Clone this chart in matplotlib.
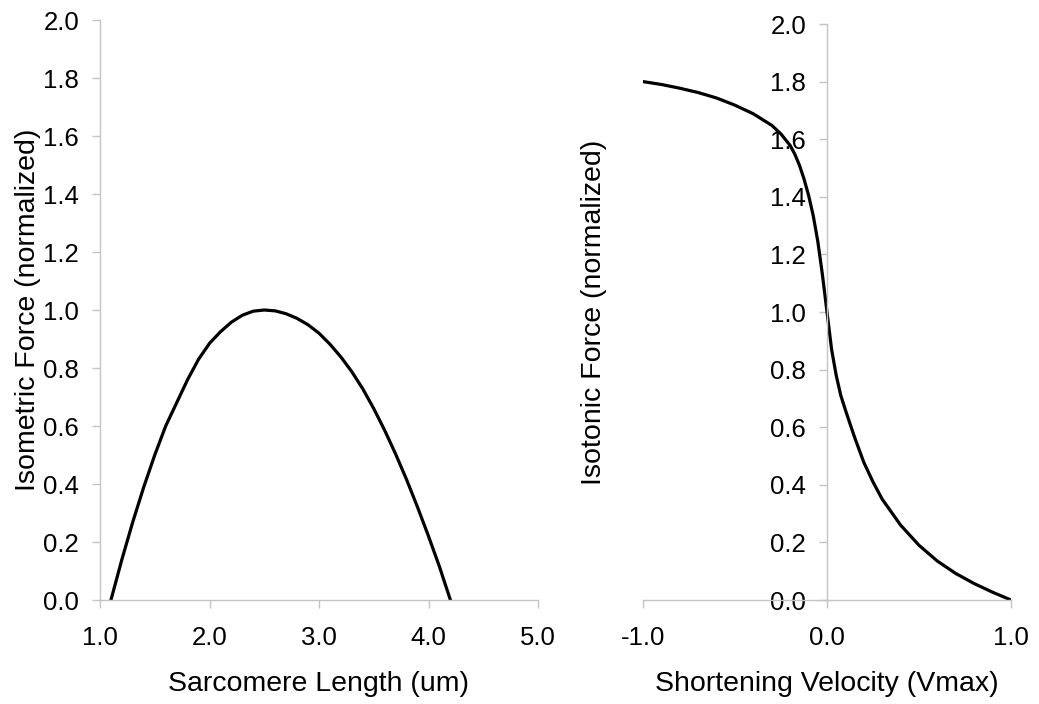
import matplotlib.pyplot as plt

plt.rcParams["font.family"] = ["Liberation Sans", "DejaVu Sans"]

# force-length relationship
length_um = [1.1, 1.2, 1.3, 1.4, 1.5, 1.6, 1.7, 1.8, 1.9, 2.0, 2.1, 2.2, 2.3, 2.4, 2.5,
             2.6, 2.7, 2.8, 2.9, 3.0, 3.1, 3.2, 3.3, 3.4, 3.5, 3.6, 3.7, 3.8, 3.9, 4.0,
             4.1, 4.2]
iso_force = [0.0, 0.14, 0.27, 0.39, 0.50, 0.60, 0.68, 0.76, 0.83, 0.885, 0.925, 0.958,
             0.982, 0.996, 1.0, 0.997, 0.987, 0.971, 0.949, 0.92, 0.882, 0.838, 0.787,
             0.728, 0.66, 0.585, 0.503, 0.415, 0.32, 0.22, 0.115, 0.0]

# force-velocity relationship
velocity = [-1.0, -0.9, -0.8, -0.7, -0.6, -0.5, -0.4, -0.3, -0.25, -0.2, -0.175, -0.15,
            -0.125, -0.1, -0.075, -0.05, -0.025, 0.0, 0.025, 0.05, 0.075, 0.1, 0.125,
            0.15, 0.2, 0.25, 0.3, 0.4, 0.5, 0.6, 0.7, 0.8, 0.9, 1.0]
ison_force = [1.80, 1.79, 1.777, 1.762, 1.743, 1.718, 1.688, 1.648, 1.618, 1.578, 1.548,
              1.51, 1.462, 1.405, 1.335, 1.245, 1.13, 1.0, 0.87, 0.78, 0.71, 0.66, 0.612,
              0.565, 0.478, 0.41, 0.35, 0.26, 0.19, 0.135, 0.092, 0.057, 0.027, 0.0]

x_ticks_left = [1.0, 2.0, 3.0, 4.0, 5.0]
x_ticks_right = [-1.0, 0.0, 1.0]
y_ticks = [0.0, 0.2, 0.4, 0.6, 0.8, 1.0, 1.2, 1.4, 1.6, 1.8, 2.0]

GREY = "#c4c4c4"
W, H = 1039, 704

fig = plt.figure(figsize=(W / 100, H / 100), dpi=100)
ax1 = fig.add_axes([100 / W, 1 - 600 / H, 438 / W, 580 / H])
ax2 = fig.add_axes([643 / W, 1 - 600 / H, 368 / W, 576 / H])


def style(ax):
    for s in ("top", "right"):
        ax.spines[s].set_visible(False)
    for s in ("left", "bottom"):
        ax.spines[s].set_color(GREY)
        ax.spines[s].set_linewidth(1.0)
    ax.tick_params(axis="both", color=GREY, width=1.0, length=6, labelsize=18.5,
                   labelcolor="black")
    ax.tick_params(axis="x", pad=13)
    ax.tick_params(axis="y", pad=9)
    ax.set_yticks(y_ticks)
    ax.set_yticklabels([f"{v:.1f}" for v in y_ticks])
    ax.set_ylim(0, 2.0)


ax1.plot(length_um, iso_force, color="black", linewidth=2.3)
style(ax1)
ax1.set_xlim(1.0, 5.0)
ax1.set_xticks(x_ticks_left)
ax1.set_xticklabels([f"{v:.1f}" for v in x_ticks_left])
ax1.set_xlabel("Sarcomere Length (um)", fontsize=20.5)
ax1.set_ylabel("Isometric Force (normalized)", fontsize=20.5)
ax1.xaxis.set_label_coords(0.5, -0.122)
ax1.yaxis.set_label_coords(-0.135, 0.5)

ax2.plot(velocity, ison_force, color="black", linewidth=2.3)
style(ax2)
ax2.spines["left"].set_position(("data", 0.0))
ax2.set_xlim(-1.0, 1.0)
ax2.set_xticks(x_ticks_right)
ax2.set_xticklabels([f"{v:.1f}" for v in x_ticks_right])
ax2.set_xlabel("Shortening Velocity (Vmax)", fontsize=20.5)
ax2.set_ylabel("Isotonic Force (normalized)", fontsize=20.5)
ax2.xaxis.set_label_coords(0.5, -0.123)
ax2.yaxis.set_label_coords(-0.098, 0.5)

fig.savefig("out.png", dpi=100)
